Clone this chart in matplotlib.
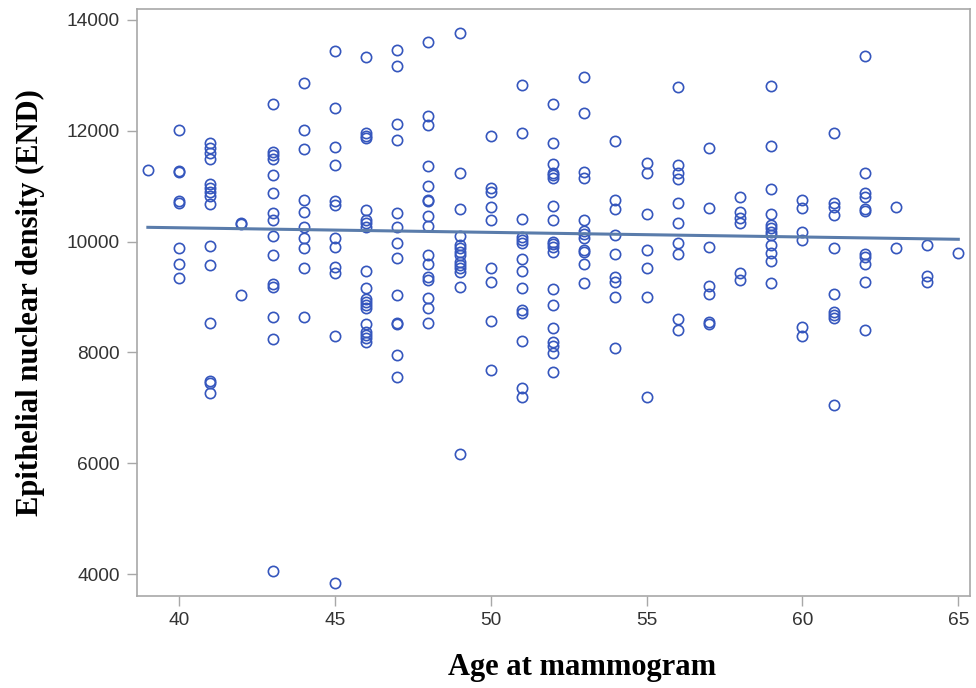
import numpy as np
import matplotlib
matplotlib.use('Agg')
import matplotlib.pyplot as plt

# END values, grouped by age at mammogram
ages = [39, 40, 41, 42, 43, 44, 45, 46, 47, 48, 49, 50, 51, 52,
        53, 54, 55, 56, 57, 58, 59, 60, 61, 62, 63, 64, 65]

density_by_age = [
    [11300],
    [12020, 11280, 11260, 10730, 10700, 9885, 9596, 9343],
    [11780, 11690, 11600, 11490, 11040, 10970, 10900, 10830, 10680, 9920, 9580,
     8536, 7484, 7450, 7270],
    [10340, 10318, 9036],
    [12490, 11623, 11563, 11486, 11202, 10883, 10516, 10390, 10102, 9760, 9240,
     9180, 8634, 8236, 4060],
    [12857, 12015, 11667, 10751, 10529, 10270, 10060, 9890, 9530, 8634],
    [13446, 12404, 11703, 11383, 10733, 10661, 10072, 9910, 9548, 9428, 8296, 3832],
    [13338, 11955, 11906, 11865, 10571, 10390, 10330, 10270, 9465, 9168, 8964,
     8915, 8855, 8795, 8506, 8373, 8313, 8253, 8193],
    [13459, 13176, 12123, 11834, 10522, 10270, 9982, 9700, 9036, 8524, 8506,
     7948, 7557],
    [13609, 12274, 12105, 11370, 11009, 10751, 10733, 10462, 10282, 9760, 9590,
     9367, 9310, 8988, 8807, 8524],
    [13760, 11232, 10583, 10110, 9940, 9880, 9820, 9760, 9640, 9580, 9520, 9460,
     9190, 6161],
    [11906, 10961, 10900, 10630, 10390, 9530, 9277, 8565, 7680],
    [12827, 11955, 10400, 10090, 10030, 9982, 9688, 9465, 9168, 8765, 8717, 8211,
     7356, 7188],
    [12477, 11788, 11395, 11244, 11202, 11142, 10649, 10390, 10000, 9960, 9910,
     9810, 9143, 8855, 8434, 8193, 8115, 7983, 7652],
    [12977, 12315, 11262, 11142, 10390, 10200, 10140, 10070, 9850, 9810, 9590, 9260],
    [11816, 10751, 10583, 10125, 9780, 9367, 9277, 9006, 8085],
    [11413, 11232, 10494, 9850, 9530, 9006, 7201],
    [12797, 11383, 11232, 11124, 10700, 10330, 9982, 9770, 8597, 8403],
    [11684, 10605, 9905, 9199, 9054, 8554, 8513],
    [10811, 10540, 10420, 10340, 9428, 9310],
    [12810, 11726, 10943, 10494, 10300, 10240, 10180, 10120, 9940, 9790, 9652, 9247],
    [10751, 10601, 10180, 10030, 8460, 8296],
    [11955, 10691, 10630, 10476, 9880, 9054, 8735, 8675, 8615, 7057],
    [13350, 11244, 10871, 10811, 10583, 10560, 9780, 9720, 9596, 9277, 8404],
    [10630, 9880],
    [9940, 9379, 9277],
    [9802],
]

# regression line ends
fit_age = [39, 65]
fit_end = [10258, 10042]

xticks = [40, 45, 50, 55, 60, 65]
yticks = [4000, 6000, 8000, 10000, 12000, 14000]

age = np.concatenate([[a] * len(v) for a, v in zip(ages, density_by_age)])
end = np.concatenate(density_by_age)

fig = plt.figure(figsize=(9.76, 6.88), dpi=100)
ax = fig.add_axes([0.140, 0.134, 0.854, 0.853])

ax.plot(age, end, 'o', ms=7.4, mfc='none', mec='#3556bd', mew=1.2)
ax.plot(fit_age, fit_end, color='#5a7cab', lw=2.2)

ax.set_xlim(38.64, 65.38)
ax.set_ylim(3608, 14199)
ax.set_xticks(xticks)
ax.set_yticks(yticks)

for s in ax.spines.values():
    s.set_color('#a8a8a8')
    s.set_linewidth(1.2)
ax.tick_params(direction='out', length=7, width=1, color='#a8a8a8',
               labelsize=13.8, labelcolor='#333333', pad=5)
for lab in ax.get_xticklabels() + ax.get_yticklabels():
    lab.set_family('Liberation Sans')

ax.set_xlabel('Age at mammogram', family='Liberation Serif', fontsize=22,
              fontweight='bold')
ax.set_ylabel('Epithelial nuclear density (END)', family='Liberation Serif',
              fontsize=22, fontweight='bold')
ax.xaxis.set_label_coords(0.534, -0.098)
ax.yaxis.set_label_coords(-0.110, 0.5)

plt.savefig('out.png', dpi=100)
